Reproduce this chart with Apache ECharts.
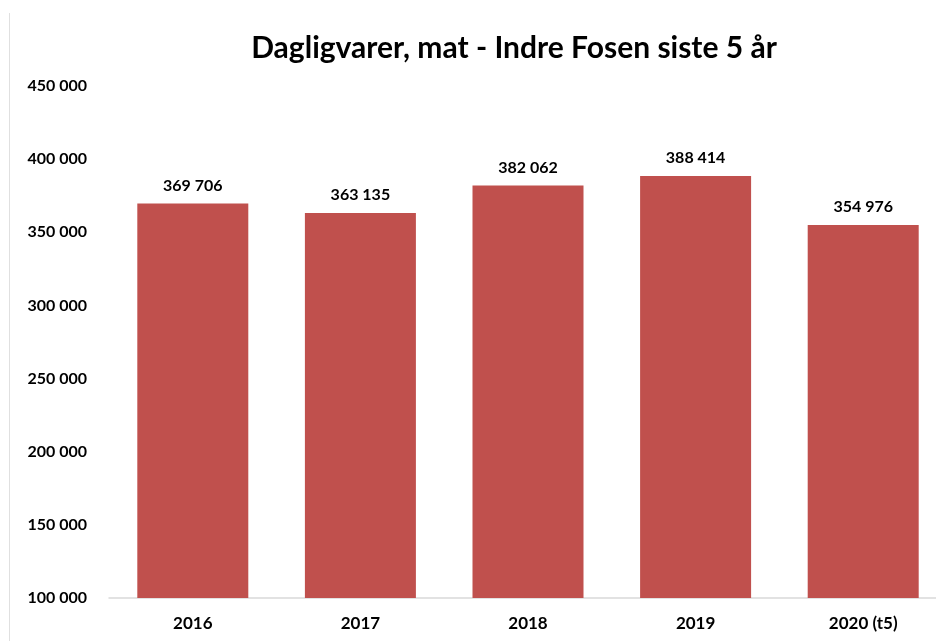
<!DOCTYPE html>
<html>
<head>
    <meta charset="UTF-8">
    <script src="https://cdn.jsdelivr.net/npm/echarts@6/dist/echarts.min.js"></script>
    <style>
        html, body { margin: 0; padding: 0; background: #fff; overflow: hidden; }
        /* plot runs a little past the right edge, as in the source picture */
        #main { width: 947px; height: 641px; }
    </style>
</head>
<body>
<div id="main"></div>
<script type="text/javascript">
    var years = ['2016', '2017', '2018', '2019', '2020 (t5)'];
    var sales = [369706, 363135, 382062, 388414, 354976];
    var yTicks = [100000, 450000, 50000]; // min, max, step

    function fmt(v) {
        return String(v).replace(/\B(?=(\d{3})+(?!\d))/g, ' ');
    }

    var myChart = echarts.init(document.getElementById('main'));
    var option = {
        backgroundColor: '#fff',
        textStyle: {fontFamily: 'Lato'},
        title: {
            text: 'Dagligvarer, mat - Indre Fosen siste 5 år',
            left: 509,
            textAlign: 'center',
            top: 28,
            textStyle: {fontFamily: 'Lato', fontSize: 30, fontWeight: 'bold', color: '#000'}
        },
        graphic: [{
            type: 'line',
            shape: {x1: 9.5, y1: 13, x2: 9.5, y2: 641},
            style: {stroke: '#e0e0e0', lineWidth: 1}
        }],
        grid: {left: 109, right: 0, top: 86, bottom: 43},
        xAxis: {
            type: 'category',
            data: years,
            axisLine: {lineStyle: {color: '#d9d9d9', width: 1.5}},
            axisTick: {show: false},
            axisLabel: {color: '#000', fontWeight: 'bold', fontSize: 17, margin: 17}
        },
        yAxis: {
            type: 'value',
            min: yTicks[0],
            max: yTicks[1],
            interval: yTicks[2],
            splitLine: {show: false},
            axisLine: {show: false},
            axisTick: {show: false},
            axisLabel: {
                color: '#000', fontWeight: 'bold', fontSize: 16, margin: 22,
                formatter: fmt
            }
        },
        series: [{
            type: 'bar',
            data: sales,
            barWidth: 111,
            itemStyle: {color: '#C0504D'},
            label: {
                show: true,
                position: 'top',
                distance: 10,
                color: '#000',
                fontWeight: 'bold',
                fontSize: 16,
                formatter: function (p) { return fmt(p.value); }
            }
        }]
    };
    myChart.setOption(option);
</script>
</body>
</html>
